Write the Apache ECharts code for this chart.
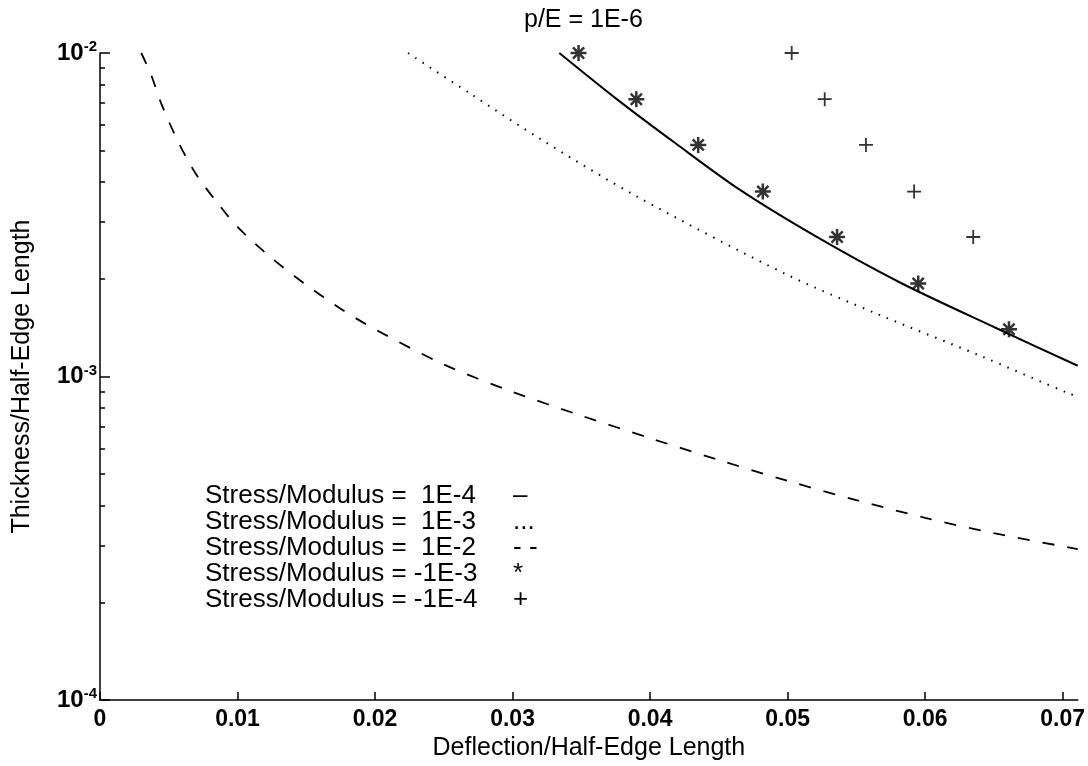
<!DOCTYPE html>
<html>
<head>
<meta charset="utf-8">
<script src="https://cdn.jsdelivr.net/npm/echarts@6/dist/echarts.min.js"></script>
<style>
  html, body { margin: 0; padding: 0; background: #fff; }
  #chart { width: 1088px; height: 766px; }
</style>
</head>
<body>
<div id="chart"></div>
<script>
// --- data (x = deflection/half-edge, y = thickness/half-edge)
const xTicks = [0, 0.01, 0.02, 0.03, 0.04, 0.05, 0.06, 0.07];
const yMajor = [1e-4, 1e-3, 1e-2];
const yMinorMult = [2, 3, 4, 5, 6, 7, 8, 9];

// Stress/Modulus = 1E-4 (solid)
const s1e4X = [0.0334, 0.0376, 0.0419, 0.0466, 0.0520, 0.0581, 0.0652, 0.0711];
const s1e4Y = [0.0100, 0.00719, 0.00524, 0.00376, 0.00272, 0.00196, 0.00141, 0.00108];

// Stress/Modulus = 1E-3 (dotted)
const s1e3X = [0.0224, 0.0269, 0.0320, 0.0390, 0.0499, 0.0567, 0.0640, 0.0705, 0.0711];
const s1e3Y = [0.0100, 0.00750, 0.00543, 0.00361, 0.00207, 0.00155, 0.00116, 0.000885, 0.00087];

// Stress/Modulus = 1E-2 (dashed)
const s1e2X = [0.0030, 0.0037, 0.0045, 0.0057, 0.0070, 0.0085, 0.010, 0.0125, 0.015, 0.0175, 0.020,
               0.025, 0.030, 0.035, 0.040, 0.045, 0.050, 0.055, 0.060, 0.065, 0.0711];
const s1e2Y = [0.0100, 0.0086, 0.0069, 0.0053, 0.00421, 0.00346, 0.00290, 0.00232, 0.00192, 0.00162, 0.00140,
               0.00109, 0.000897, 0.000757, 0.000645, 0.000552, 0.000476, 0.000415, 0.000366, 0.000328, 0.000293];

// Stress/Modulus = -1E-3 (asterisks)
const sm1e3X = [0.0348, 0.0390, 0.0435, 0.0482, 0.0536, 0.0595, 0.0661];
const sm1e3Y = [0.0100, 0.0072, 0.0052, 0.00373, 0.00270, 0.00194, 0.00140];

// Stress/Modulus = -1E-4 (plus)
const sm1e4X = [0.0503, 0.0527, 0.0557, 0.0592, 0.0635];
const sm1e4Y = [0.0100, 0.0072, 0.0052, 0.00373, 0.00270];

const names = [
  'Stress/Modulus =  1E-4',
  'Stress/Modulus =  1E-3',
  'Stress/Modulus =  1E-2',
  'Stress/Modulus = -1E-3',
  'Stress/Modulus = -1E-4'
];
const legendMarks = ['–', '...', '- -', '*', '+'];

const FONT = '"Liberation Sans", Arial, Helvetica, sans-serif';
const pairs = (xs, ys) => xs.map((x, i) => [x, ys[i]]);

const yMinor = [];
yMajor.slice(0, -1).forEach((d) => yMinorMult.forEach((m) => yMinor.push(+(d * m).toPrecision(3))));

const ASTER = 'path://M0,-10L0,10M-10,0L10,0M-7,-7L7,7M-7,7L7,-7';
const PLUS = 'path://M0,-10L0,10M-10,0L10,0';

const chart = echarts.init(document.getElementById('chart'));
chart.setOption({
  animation: false,
  backgroundColor: '#fff',
  textStyle: { fontFamily: FONT, color: '#000' },
  title: {
    text: 'p/E = 1E-6',
    left: 524, top: 8, padding: 0,
    textStyle: { fontFamily: FONT, fontSize: 25, fontWeight: 'normal', color: '#000' }
  },
  legend: {
    orient: 'vertical', left: 195, top: 478,
    itemGap: 0, itemWidth: 0, icon: 'none', selectedMode: false,
    data: names,
    formatter: (name) => `{a|${name}}{b|${legendMarks[names.indexOf(name)]}}`,
    textStyle: {
      color: '#000', fontFamily: FONT, fontSize: 26,
      rich: {
        a: { width: 308, fontSize: 26, lineHeight: 24.5, fontFamily: FONT, color: '#000' },
        b: { fontSize: 26, lineHeight: 24.5, fontFamily: FONT, color: '#000' }
      }
    }
  },
  grid: { left: 100, right: 10, top: 53, bottom: 58 },
  xAxis: {
    type: 'value', min: 0, max: 0.0711,
    name: 'Deflection/Half-Edge Length', nameLocation: 'middle', nameGap: 32,
    nameTextStyle: { fontFamily: FONT, fontSize: 25, color: '#000' },
    axisLine: { lineStyle: { color: '#000', width: 1.5 } },
    axisTick: { inside: true, length: 8, customValues: xTicks, lineStyle: { color: '#000', width: 1.5 } },
    axisLabel: {
      customValues: xTicks, margin: 8, fontSize: 23, fontWeight: 'bold', color: '#000', fontFamily: FONT,
      formatter: (v) => (v === 0 ? '0' : v.toFixed(2))
    },
    splitLine: { show: false }
  },
  yAxis: [{
    type: 'log', logBase: 10, min: 1e-4, max: 1e-2,
    name: 'Thickness/Half-Edge Length', nameLocation: 'middle', nameGap: 65,
    nameTextStyle: { fontFamily: FONT, fontSize: 25, color: '#000' },
    axisLine: { lineStyle: { color: '#000', width: 1.5 } },
    axisTick: { inside: true, length: 10, customValues: yMajor, lineStyle: { color: '#000', width: 1.5 } },
    axisLabel: {
      customValues: yMajor, margin: 3, color: '#000', fontFamily: FONT,
      formatter: (v) => `{b|10}{s|${Math.round(Math.log10(v))}}`,
      rich: {
        b: { fontSize: 24, fontWeight: 'bold', fontFamily: FONT, color: '#000' },
        s: { fontSize: 15, fontWeight: 'bold', fontFamily: FONT, color: '#000', padding: [0, 0, 12, 0] }
      }
    },
    splitLine: { show: false }
  }, {
    // minor ticks 2..9 per decade
    type: 'log', logBase: 10, min: 1e-4, max: 1e-2, position: 'left',
    axisLine: { show: false },
    axisTick: { inside: true, length: 5, customValues: yMinor, lineStyle: { color: '#000', width: 1.5 } },
    axisLabel: { show: false },
    splitLine: { show: false }
  }],
  series: [
    {
      name: names[0], type: 'line', smooth: 0.3, showSymbol: false,
      lineStyle: { color: '#000', width: 2 },
      data: pairs(s1e4X, s1e4Y)
    },
    {
      name: names[1], type: 'line', smooth: 0.3, showSymbol: false,
      lineStyle: { color: '#000', width: 2, type: [1.5, 7.2] },
      data: pairs(s1e3X, s1e3Y)
    },
    {
      name: names[2], type: 'line', smooth: 0.3, showSymbol: false,
      lineStyle: { color: '#000', width: 1.8, type: [12, 13] },
      data: pairs(s1e2X, s1e2Y)
    },
    {
      name: names[3], type: 'scatter', symbol: ASTER, symbolSize: 16,
      itemStyle: { color: 'transparent', borderColor: '#000', borderWidth: 2.5 },
      data: pairs(sm1e3X, sm1e3Y), z: 5
    },
    {
      name: names[4], type: 'scatter', symbol: PLUS, symbolSize: 14,
      itemStyle: { color: 'transparent', borderColor: '#000', borderWidth: 1.8 },
      data: pairs(sm1e4X, sm1e4Y), z: 5
    }
  ]
});
</script>
</body>
</html>
